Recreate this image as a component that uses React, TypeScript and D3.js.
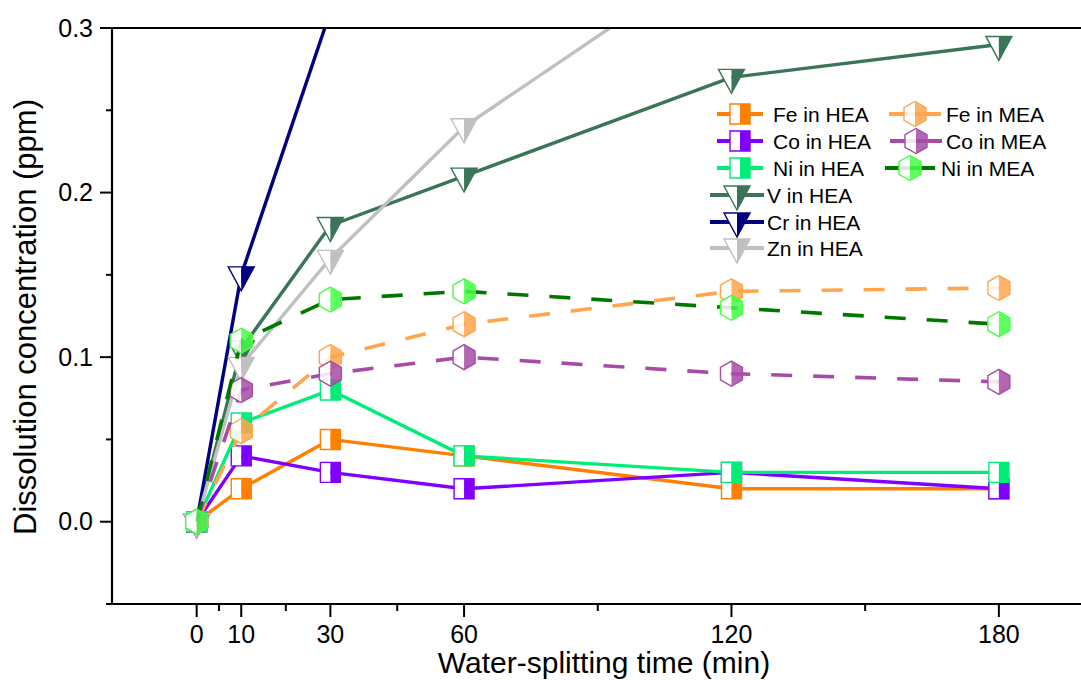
import React from "react"
import * as d3 from "d3"

// sampling times (min)
const times = [0, 10, 30, 60, 120, 180]

// dissolved concentration (ppm), HEA
const feHEA = [0, 0.02, 0.05, 0.04, 0.02, 0.02]
const coHEA = [0, 0.04, 0.03, 0.02, 0.03, 0.02]
const niHEA = [0, 0.06, 0.08, 0.04, 0.03, 0.03]
const vHEA = [0, 0.105, 0.18, 0.21, 0.27, 0.29]
const crHEA: (number | null)[] = [0, 0.15, 0.31, null, null, null]
const znHEA: (number | null)[] = [0, 0.095, 0.16, 0.24, 0.35, null]

// dissolved concentration (ppm), MEA
const feMEA = [0, 0.055, 0.1, 0.12, 0.14, 0.142]
const coMEA = [0, 0.08, 0.09, 0.1, 0.09, 0.085]
const niMEA = [0, 0.11, 0.135, 0.14, 0.13, 0.12]

const xTickValues = [0, 10, 30, 60, 120, 180]
const xMinorValues = [5, 20, 45, 90, 150]
const yTickValues = [0, 0.1, 0.2, 0.3]
const yMinorValues = [-0.05, 0.05, 0.15, 0.25]

type Shape = "square" | "hex" | "tri"

interface Series {
  name: string
  values: (number | null)[]
  line: string
  marker: string
  shape: Shape
  dashed: boolean
  alpha: number
}

const series: Series[] = [
  { name: "Fe in HEA", values: feHEA, line: "#ff8000", marker: "#ff8000", shape: "square", dashed: false, alpha: 1 },
  { name: "Co in HEA", values: coHEA, line: "#8000ff", marker: "#8000ff", shape: "square", dashed: false, alpha: 1 },
  { name: "Ni in HEA", values: niHEA, line: "#00ee77", marker: "#00ee77", shape: "square", dashed: false, alpha: 1 },
  { name: "V in HEA", values: vHEA, line: "#3a7558", marker: "#3a7558", shape: "tri", dashed: false, alpha: 1 },
  { name: "Cr in HEA", values: crHEA, line: "#000080", marker: "#000080", shape: "tri", dashed: false, alpha: 1 },
  { name: "Zn in HEA", values: znHEA, line: "#c0c0c0", marker: "#c0c0c0", shape: "tri", dashed: false, alpha: 1 },
  { name: "Fe in MEA", values: feMEA, line: "#ffa64d", marker: "#ffa64d", shape: "hex", dashed: true, alpha: 0.85 },
  { name: "Co in MEA", values: coMEA, line: "#a64ca6", marker: "#a64ca6", shape: "hex", dashed: true, alpha: 0.85 },
  { name: "Ni in MEA", values: niMEA, line: "#007800", marker: "#44ff44", shape: "hex", dashed: true, alpha: 0.85 },
]

const W = 1081
const H = 680
const plot = { left: 112, right: 1088, top: 28, bottom: 604 }
const font = "'Liberation Sans', Arial, Helvetica, sans-serif"

function Marker({ shape, x, y, color, alpha }: { shape: Shape; x: number; y: number; color: string; alpha: number }) {
  let left: string
  let right: string
  let outline: string
  if (shape === "square") {
    const s = 10
    left = `${-s},${-s} 0,${-s} 0,${s} ${-s},${s}`
    right = `0,${-s} ${s},${-s} ${s},${s} 0,${s}`
    outline = `${-s},${-s} ${s},${-s} ${s},${s} ${-s},${s}`
  } else if (shape === "hex") {
    const r = 12.5
    const w = 11
    left = `0,${-r} 0,${r} ${-w},${r / 2} ${-w},${-r / 2}`
    right = `0,${-r} ${w},${-r / 2} ${w},${r / 2} 0,${r}`
    outline = `0,${-r} ${w},${-r / 2} ${w},${r / 2} 0,${r} ${-w},${r / 2} ${-w},${-r / 2}`
  } else {
    // downward triangle centred on its centroid
    const hw = 13
    left = `${-hw},-8 0,-8 0,16`
    right = `0,-8 ${hw},-8 0,16`
    outline = `${-hw},-8 ${hw},-8 0,16`
  }
  return (
    <g transform={`translate(${x},${y})`}>
      <polygon points={left} fill="#fff" fillOpacity={alpha} />
      <polygon points={right} fill={color} fillOpacity={alpha} />
      <polygon points={outline} fill="none" stroke={color} strokeWidth={1.4} strokeLinejoin="miter" />
    </g>
  )
}

// legend layout: [x of sample centre, sample half length, text x, row y]
const legendPos: [number, number, number, number][] = [
  [740, 23, 773, 114],
  [740, 23, 773, 141],
  [740, 23, 773, 168],
  [737, 27, 767, 195],
  [737, 27, 767, 222],
  [737, 27, 767, 248],
  [915, 26, 946, 114],
  [916, 26, 946, 141],
  [910, 25, 941, 168],
]

export default function App() {
  const x = d3.scaleLinear().domain([-19, 200]).range([plot.left, plot.right])
  const y = d3.scaleLinear().domain([-0.05, 0.3]).range([plot.bottom, plot.top])

  const line = d3
    .line<number | null>()
    .defined((d) => d !== null)
    .x((_, i) => x(times[i]))
    .y((d) => y(d as number))

  const yFmt = d3.format(".1f")

  return (
    <svg
      width={W}
      height={H}
      style={{ position: "absolute", left: 0, top: 0, background: "#fff" }}
      fontFamily={font}
    >
      <defs>
        <clipPath id="plotClip">
          <rect x={plot.left} y={plot.top} width={W - plot.left} height={plot.bottom - plot.top} />
        </clipPath>
      </defs>

      {/* series */}
      <g clipPath="url(#plotClip)">
        {series.map((s) => (
          <g key={s.name}>
            <path
              d={line(s.values) || ""}
              fill="none"
              stroke={s.line}
              strokeWidth={s.dashed ? 3.6 : 3.4}
              strokeDasharray={s.dashed ? "21 21" : undefined}
              strokeLinejoin="round"
            />
            {s.values.map((v, i) =>
              v === null ? null : (
                <Marker key={i} shape={s.shape} x={x(times[i])} y={y(v)} color={s.marker} alpha={s.alpha} />
              ),
            )}
          </g>
        ))}
      </g>

      {/* frame + axes */}
      <line x1={plot.left} x2={W} y1={plot.top} y2={plot.top} stroke="#000" strokeWidth={2} />
      <line x1={plot.left} x2={plot.left} y1={plot.top - 1} y2={plot.bottom + 1} stroke="#000" strokeWidth={2.2} />
      <line x1={plot.left} x2={W} y1={plot.bottom} y2={plot.bottom} stroke="#000" strokeWidth={2.2} />

      {yTickValues.map((t) => (
        <g key={t}>
          <line x1={plot.left - 12} x2={plot.left} y1={y(t)} y2={y(t)} stroke="#000" strokeWidth={2} />
          <text x={93} y={y(t)} dy="0.35em" textAnchor="end" fontSize={25}>
            {yFmt(t)}
          </text>
        </g>
      ))}
      {yMinorValues.map((t) => (
        <line key={t} x1={plot.left - 6} x2={plot.left} y1={y(t)} y2={y(t)} stroke="#000" strokeWidth={2} />
      ))}

      {xTickValues.map((t) => (
        <g key={t}>
          <line x1={x(t)} x2={x(t)} y1={plot.bottom} y2={plot.bottom + 13} stroke="#000" strokeWidth={2} />
          <text x={x(t)} y={643} textAnchor="middle" fontSize={25}>
            {t}
          </text>
        </g>
      ))}
      {xMinorValues.map((t) => (
        <line key={t} x1={x(t)} x2={x(t)} y1={plot.bottom} y2={plot.bottom + 7} stroke="#000" strokeWidth={2} />
      ))}

      <text x={604} y={673} textAnchor="middle" fontSize={30}>
        Water-splitting time (min)
      </text>
      <text transform="translate(36,317) rotate(-90)" textAnchor="middle" fontSize={31}>
        Dissolution concentration (ppm)
      </text>

      {/* legend */}
      {series.map((s, i) => {
        const [cx, half, tx, ry] = legendPos[i]
        return (
          <g key={s.name}>
            <line x1={cx - half} x2={cx + half} y1={ry} y2={ry} stroke={s.line} strokeWidth={4} />
            <Marker shape={s.shape} x={cx} y={s.shape === "tri" ? ry - 1 : ry} color={s.marker} alpha={s.alpha} />
            <text x={tx} y={ry + 7.5} fontSize={21}>
              {s.name}
            </text>
          </g>
        )
      })}
    </svg>
  )
}
